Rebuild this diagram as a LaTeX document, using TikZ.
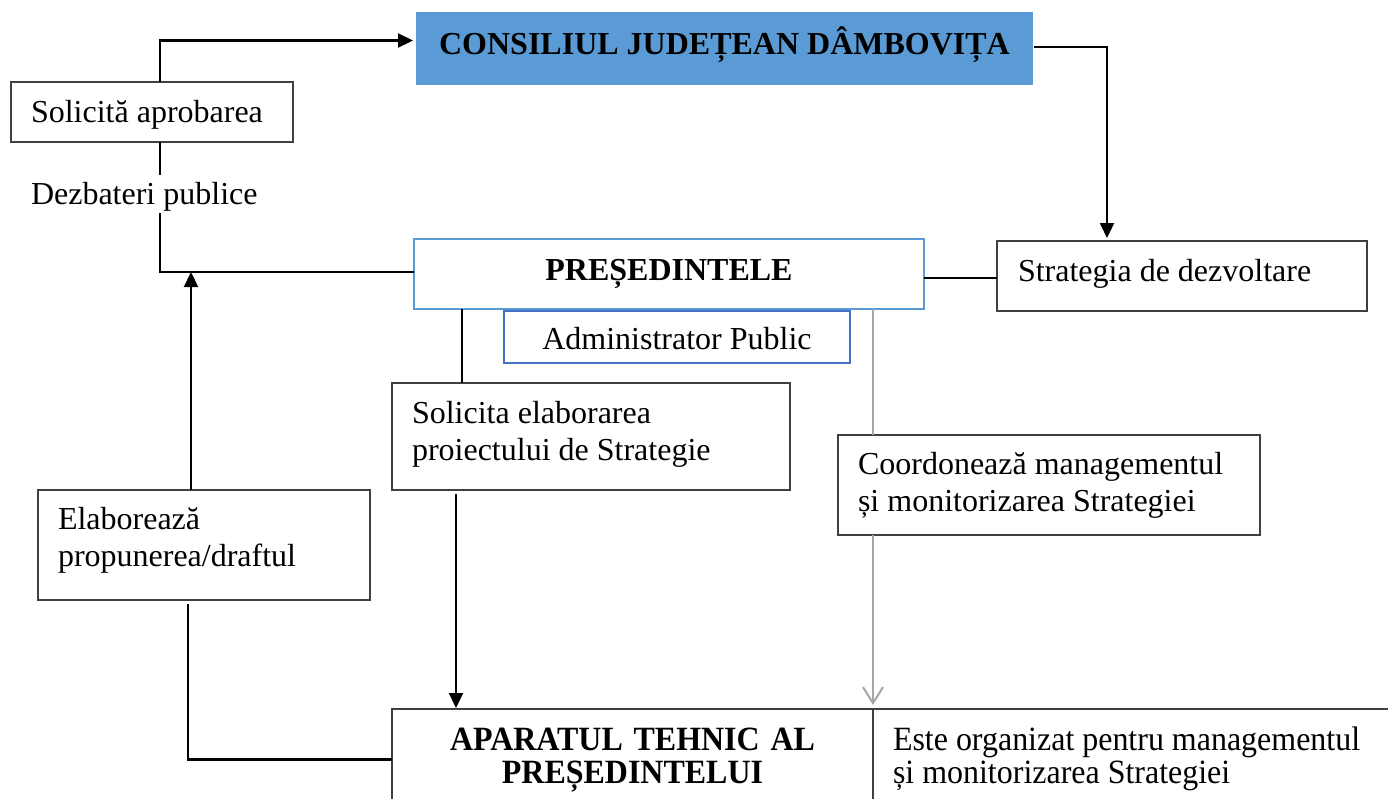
\documentclass[tikz,border=0pt]{standalone}
\usepackage{fontspec}
\setmainfont{Liberation Serif}
\newfontfamily\condfont{Liberation Serif}[FakeStretch=0.94]
\usetikzlibrary{arrows.meta,calc}
\definecolor{cjdblue}{HTML}{5B9BD5}
\definecolor{admblue}{HTML}{4472C4}
\definecolor{flowgray}{HTML}{A6A6A6}
\definecolor{boxline}{HTML}{404040}
\def\wsfix{\spaceskip=0pt\relax\xspaceskip=0pt\relax}
\begin{document}
\begin{tikzpicture}[x=1pt,y=-1pt,
  every node/.style={font=\fontsize{32}{37}\selectfont, inner sep=0pt, outer sep=0pt},
  bold/.style={font=\fontsize{32}{37}\selectfont\bfseries},
  box/.style={draw=boxline, line width=1.8pt, anchor=north west, inner ysep=0pt},
  lbox/.style={box, align=left, inner xsep=20pt},
  ln/.style={line width=2.2pt, draw=black},
  arr/.style={ln, -{Triangle[length=15pt,width=14pt]}},
  gln/.style={line width=2pt, draw=flowgray}
]
\useasboundingbox (0,0) rectangle (1388,798);
\clip (0,0) rectangle (1388,798);
\fill[white] (0,0) rectangle (1388,798);

% boxes
\node[box, minimum width=615pt, text height=41pt, text depth=30pt, fill=cjdblue, draw=cjdblue, bold] (cjd) at (417,13) {CONSILIUL JUDEȚEAN DÂMBOVIȚA};
\node[lbox, text width=242pt, text height=40pt, text depth=20pt] (sol) at (11,82) {\wsfix Solicită aprobarea};
\node[anchor=north west, text height=29pt, text depth=9pt] (dez) at (31,175) {Dezbateri publice};
\node[box, draw=cjdblue, line width=2.2pt, minimum width=510pt, text height=41pt, text depth=29pt, bold] (pres) at (414,239) {PREȘEDINTELE};
\node[lbox, inner xsep=21pt, text width=328pt, text height=40pt, text depth=30pt] (strat) at (997,241) {\wsfix Strategia de dezvoltare};
\node[box, draw=admblue, line width=2.2pt, minimum width=346pt, text height=38pt, text depth=14pt] (admin) at (504,311) {Administrator Public};
\node[lbox, text width=358pt, text height=40pt, text depth=67pt] (solel) at (392,383) {\wsfix Solicita elaborarea\\proiectului de Strategie};
\node[lbox, text width=382pt, text height=39pt, text depth=61pt] (coord) at (838,435) {\wsfix Coordonează managementul\\și monitorizarea Strategiei};
\node[lbox, text width=292pt, text height=39pt, text depth=71pt] (elab) at (38,490) {\wsfix Elaborează\\propunerea/draftul};
\node[box, align=center, inner xsep=10pt, text width=461pt, text height=41pt, text depth=60pt,
      font={\condfont\fontsize{34}{33}\selectfont\bfseries\lineskiplimit=-50pt}] (atp) at (392,709) {\wsfix APARATUL TEHNIC AL\\PREȘEDINTELUI};
\node[lbox, text width=500pt, text height=41pt, text depth=60pt,
      font={\condfont\fontsize{34}{33}\selectfont\lineskiplimit=-50pt}] (este) at (873,709) {\wsfix Este organizat pentru managementul\\și monitorizarea Strategiei};

% helper coordinates
\coordinate (lx) at (160,0);
\coordinate (ex) at (191,272);
\coordinate (cx) at (1107,0);
\coordinate (px) at (462,0);
\coordinate (ax) at (456,0);
\coordinate (gx) at (873,0);
\coordinate (bx) at (188,0);

% connectors
\draw[arr, shorten >=4pt] (sol.north -| lx) |- ($(cjd.west)+(0,-8)$);
\draw[ln] (sol.south -| lx) -- (dez.north -| lx);
\draw[ln] (dez.south -| lx) |- ($(pres.west)+(0,-2)$);
\draw[arr] (elab.north -| ex) -- (ex);
\draw[ln] ($(pres.east)+(0,4)$) -- ($(pres.east -| strat.west)+(0,4)$);
\draw[arr, shorten >=3pt] ($(cjd.east)+(2,-1.5)$) -| (strat.north -| cx);
\draw[ln] (pres.south -| px) -- (solel.north -| px);
\draw[arr, shorten <=4pt, shorten >=1pt] (solel.south -| ax) -- (atp.north -| ax);
\draw[gln] (pres.south -| gx) -- (coord.north -| gx);
\draw[gln, -{Straight Barb[length=16pt,width=20pt]}, shorten >=4pt] (coord.south -| gx) -- (atp.north -| gx);
\draw[ln, shorten <=4pt] (elab.south -| bx) |- (atp.west);
\end{tikzpicture}
\end{document}
